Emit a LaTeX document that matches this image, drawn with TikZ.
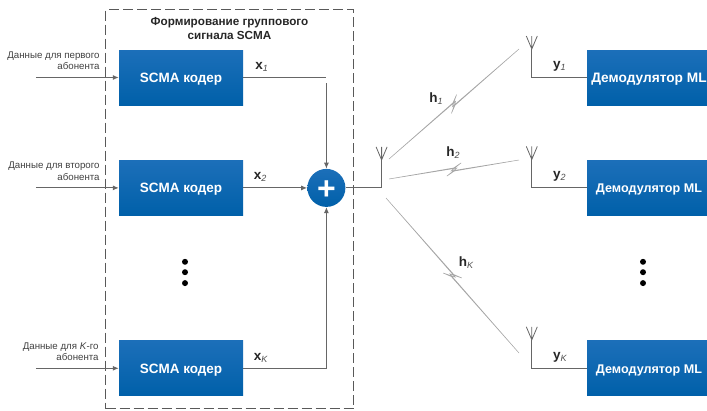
\documentclass[tikz,border=0pt]{standalone}
\usepackage{fontspec}
\setmainfont{Liberation Sans}
\usetikzlibrary{arrows.meta,positioning,calc}
\definecolor{boxtop}{HTML}{1C6FB9}
\definecolor{boxbot}{HTML}{0060A9}
\definecolor{wire}{HTML}{666666}
\newcommand{\symsub}[2]{\textbf{#1}\raisebox{-2pt}{\fontsize{9}{9}\selectfont\itshape\color{black!70}#2}}

\begin{document}
\begin{tikzpicture}[
    x=1pt, y=1pt,
    block/.style={top color=boxtop, bottom color=boxbot,
                  minimum width=124pt, minimum height=55pt, inner sep=0pt,
                  text height=9.5pt, text depth=0pt,
                  align=center, text=white, font=\fontsize{13.5}{14}\selectfont\bfseries},
    demod/.style={block, font=\fontsize{12.6}{14}\selectfont\bfseries},
    adder/.style={circle, top color=boxtop, bottom color=boxbot, minimum size=38pt, inner sep=0pt,
                  text height=22.8pt, text depth=0pt,
                  text=white, font=\fontsize{32}{32}\selectfont\bfseries},
    frame/.style={draw=black!65, line width=0.9pt, dash pattern=on 10pt off 4pt,
                  minimum width=248pt, minimum height=399pt, inner sep=0pt},
    wireline/.style={draw=wire, line width=1pt},
    arrow/.style={wireline, -{Latex[length=6pt,width=5pt]}},
    inlabel/.style={font=\fontsize{9.7}{11.5}\selectfont, text=black!75, align=right, inner sep=0pt},
    title/.style={font=\fontsize{11.7}{14.5}\selectfont\bfseries, text=black!85, align=center, inner sep=0pt},
    sym/.style={font=\fontsize{13.5}{14}\selectfont, text=black!85, inner sep=0pt},
    dot/.style={circle, fill=black, minimum size=6pt, inner sep=0pt},
    radio/.style={draw=black!35, line width=0.5pt, fill=black!6, to path={
        let \p1=($(\tikztostart)!0.5!(\tikztotarget)$) in
        -- ($(\p1)!0pt!(\tikztotarget)!1.6pt!90:(\tikztotarget)$)
        -- ($(\p1)!8pt!(\tikztotarget)!5.5pt!90:(\tikztotarget)$)
        -- ($(\p1)!-3pt!(\tikztotarget)!-1pt!90:(\tikztotarget)$)
        -- (\tikztotarget)
        -- ($(\p1)!0pt!(\tikztotarget)!-1.6pt!90:(\tikztotarget)$)
        -- ($(\p1)!-8pt!(\tikztotarget)!-5.5pt!90:(\tikztotarget)$)
        -- ($(\p1)!3pt!(\tikztotarget)!1pt!90:(\tikztotarget)$)
        -- cycle}},
    antenna/.pic={\draw[draw=wire, line width=0.8pt] (0,0) -- (0,13) (-5.5,13) -- (0,0) -- (5.5,13);},
]
\useasboundingbox (0,0) rectangle (707,-410);

% ── Encoders ──
\node[block] (enc1) at (181,-77.5) {SCMA кодер};
\node[block, below=55pt of enc1] (enc2) {SCMA кодер};
\node[block, below=125pt of enc2] (enc3) {SCMA кодер};
\node[adder, right=64pt of enc2] (sum) {+};

% ── Group signal frame ──
\node[frame] (group) at (229.5,-209) {};
\node[title, below=8pt of group.north] (grouptitle) {Формирование группового\\сигнала SCMA};

% ── Demodulators ──
\node[demod, font=\fontsize{13.7}{14}\selectfont\bfseries] (dem1) at (649,-77.5) {Демодулятор ML};
\node[demod, below=55pt of dem1] (dem2) {Демодулятор ML};
\node[demod, below=125pt of dem2] (dem3) {Демодулятор ML};

% ── Dots ──
\node[dot, below=43pt of enc2, xshift=4pt] (encdot1) {};
\node[dot, below=4pt of encdot1] (encdot2) {};
\node[dot, below=4.5pt of encdot2] (encdot3) {};
\node[dot, below=43pt of dem2, xshift=-6pt] (demdot1) {};
\node[dot, below=4pt of demdot1] (demdot2) {};
\node[dot, below=4.5pt of demdot2] (demdot3) {};

% ── Inputs ──
\coordinate[left=83pt of enc1.west] (in1);
\coordinate[left=83pt of enc2.west] (in2);
\coordinate[left=83pt of enc3.west] (in3);
\node[inlabel, above left=7.5pt and 19pt of enc1.west] (inlabel1) {Данные для первого\\абонента};
\node[inlabel, above left=7.5pt and 19pt of enc2.west] (inlabel2) {Данные для второго\\абонента};
\node[inlabel, above left=7.5pt and 20pt of enc3.west] (inlabel3) {Данные для \textit{K}-го\\абонента};
\draw[arrow] (in1) -- (enc1);
\draw[arrow] (in2) -- (enc2);
\draw[arrow] (in3) -- (enc3);

% ── Encoders to adder ──
\coordinate (corner1) at (enc1.east -| sum);
\coordinate[below=5.5pt of corner1] (drop1);
\draw[wireline] (enc1) -- (corner1);
\draw[arrow] (drop1) -- (sum);
\draw[arrow] (enc2) -- (sum);
\draw[arrow] (enc3) -| (sum);
\node[sym, above right=6pt and 12pt of enc1.east] (x1) {\symsub{x}{1}};
\node[sym, above right=6pt and 10.5pt of enc2.east] (x2) {\symsub{x}{2}};
\node[sym, above right=6pt and 10.5pt of enc3.east] (xk) {\symsub{x}{K}};

% ── Antennas ──
\coordinate[right=36pt of sum.east] (txcorner);
\coordinate[above=28pt of txcorner] (txant);
\coordinate[left=55pt of dem1.west] (rxcorner1);
\coordinate[left=55pt of dem2.west] (rxcorner2);
\coordinate[left=55pt of dem3.west] (rxcorner3);
\coordinate[above=28.5pt of rxcorner1] (rxant1);
\coordinate[above=28.5pt of rxcorner2] (rxant2);
\coordinate[above=28.5pt of rxcorner3] (rxant3);
\draw[wireline] (sum) -- (txcorner) -- (txant);
\draw[wireline] (dem1) -- (rxcorner1) -- (rxant1);
\draw[wireline] (dem2) -- (rxcorner2) -- (rxant2);
\draw[wireline] (dem3) -- (rxcorner3) -- (rxant3);
\pic at (txant) {antenna};
\pic at (rxant1) {antenna};
\pic at (rxant2) {antenna};
\pic at (rxant3) {antenna};
\node[sym, above right=6pt and 21pt of rxcorner1] (y1) {\symsub{y}{1}};
\node[sym, above right=6pt and 21pt of rxcorner2] (y2) {\symsub{y}{2}};
\node[sym, above right=6pt and 21pt of rxcorner3] (yk) {\symsub{y}{K}};

% ── Radio links ──
\coordinate (link1a) at (389,-159);
\coordinate (link1b) at (519,-49);
\coordinate (link2a) at (389,-179);
\coordinate (link2b) at (519,-160);
\coordinate (link3a) at (386,-198);
\coordinate (link3b) at (519,-353);
\draw[radio] (link1a) to (link1b);
\draw[radio] (link2a) to (link2b);
\draw[radio] (link3a) to (link3b);
\node[sym] (h1) at (436,-98.5) {\symsub{h}{1}};
\node[sym] (h2) at (453,-152.5) {\symsub{h}{2}};
\node[sym] (hk) at (466,-263) {\symsub{h}{K}};

\end{tikzpicture}
\end{document}
